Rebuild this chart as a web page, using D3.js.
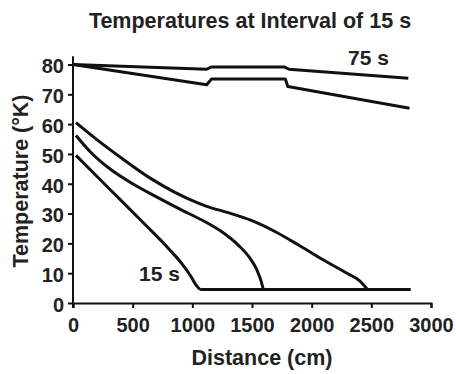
<!DOCTYPE html>
<html lang="en">
    <head>
        <meta charset="utf-8">
        <title>Temperatures at Interval of 15 s</title>
        <script src="https://cdn.jsdelivr.net/npm/d3@7"></script>
        <style type="text/css">
            body { margin: 0; background: #fff; }
            text { font-family: "Liberation Sans", Arial, sans-serif; font-weight: bold; fill: #222; }
        </style>
    </head>
    <body>
        <svg width="456" height="374"></svg>
        <script>
            // Datos (distancia en cm, temperatura en K)
            var xTicks = [0, 500, 1000, 1500, 2000, 2500, 3000];
            var yTicks = [0, 10, 20, 30, 40, 50, 60, 70, 80];

            var dist75 = [0, 1120, 1160, 1770, 1810, 2810];
            var temp75 = [80, 78.4, 79.2, 79.2, 78.4, 75.4];

            var dist60 = [0, 1120, 1160, 1780, 1800, 2820];
            var temp60 = [80, 73.2, 75.1, 75.1, 72.6, 65.3];

            var dist45 = [25, 200, 400, 650, 850, 1050, 1121, 1300, 1500, 1700, 1900, 2100, 2300, 2400, 2445, 2470];
            var temp45 = [60.5, 54.8, 48.8, 41.8, 37.2, 33.5, 32.4, 30.3, 27.6, 23.8, 19.2, 14.4, 9.9, 7.5, 5.6, 4.5];

            var dist30 = [25, 150, 300, 500, 700, 900, 1100, 1250, 1380, 1480, 1540, 1575, 1595];
            var temp30 = [56.2, 50.5, 45.3, 40, 35.6, 31.4, 27.4, 23.8, 19.6, 15.2, 11.2, 7.5, 4.5];

            var dist15 = [25, 212, 400, 600, 800, 920, 990, 1035, 1065];
            var temp15 = [49.5, 42, 34.5, 26.5, 18.3, 12.8, 8.8, 5.8, 4.5];

            // linea plana del fondo
            var distBase = [1065, 2830];
            var tempBase = [4.5, 4.5];

            var svg = d3.select("svg");

            var x = d3.scaleLinear().domain([0, 3000]).range([73, 431]);
            var y = d3.scaleLinear().domain([0, 80]).range([303, 64.5]);

            function zip(xs, ys) {
                return xs.map(function(d, i) { return [d, ys[i]]; });
            }

            var recta = d3.line()
                .x(function(d) { return x(d[0]); })
                .y(function(d) { return y(d[1]); });

            var curva = d3.line()
                .x(function(d) { return x(d[0]); })
                .y(function(d) { return y(d[1]); })
                .curve(d3.curveMonotoneX);

            // Ejes
            var ejeX = svg.append("g")
                .attr("transform", "translate(0," + y(0) + ")")
                .call(d3.axisBottom(x).tickValues(xTicks).tickFormat(d3.format("d"))
                    .tickSizeOuter(0).tickSize(5).tickPadding(10));

            var ejeY = svg.append("g")
                .attr("transform", "translate(" + x(0) + ",0)")
                .call(d3.axisLeft(y).tickValues(yTicks).tickFormat(d3.format("d"))
                    .tickSizeOuter(0).tickSize(5).tickPadding(4));

            // la linea del eje y sube un poco mas que 80
            ejeY.select(".domain").attr("d", "M0," + y(-1.6) + "V" + y(82.8));

            svg.selectAll(".domain, .tick line")
                .attr("stroke", "#111")
                .attr("stroke-width", 2);
            svg.selectAll(".tick text")
                .attr("font-size", 20)
                .attr("fill", "#222")
                .style("font-family", "'Liberation Sans', Arial, sans-serif")
                .style("font-weight", "bold");
            ejeY.selectAll(".tick text").attr("dy", "0.42em");

            // Lineas
            var lineas = svg.append("g")
                .attr("fill", "none")
                .attr("stroke", "#111")
                .attr("stroke-width", 3)
                .attr("stroke-linejoin", "round");

            lineas.append("path").attr("d", recta(zip(dist75, temp75)));
            lineas.append("path").attr("d", recta(zip(dist60, temp60)));
            lineas.append("path").attr("d", curva(zip(dist45, temp45)));
            lineas.append("path").attr("d", curva(zip(dist30, temp30)));
            lineas.append("path").attr("d", curva(zip(dist15, temp15)));
            lineas.append("path").attr("d", recta(zip(distBase, tempBase)));

            // Textos
            svg.append("text")
                .attr("x", 250).attr("y", 28)
                .attr("text-anchor", "middle")
                .attr("font-size", 21.5)
                .text("Temperatures at Interval of 15 s");

            svg.append("text")
                .attr("x", 262).attr("y", 365)
                .attr("text-anchor", "middle")
                .attr("font-size", 21.5)
                .text("Distance (cm)");

            svg.append("text")
                .attr("transform", "translate(28,181) rotate(-90)")
                .attr("text-anchor", "middle")
                .attr("font-size", 21.5)
                .text("Temperature (\u00B0K)");

            svg.append("text")
                .attr("x", 348).attr("y", 65)
                .attr("font-size", 21)
                .text("75 s");

            svg.append("text")
                .attr("x", 139).attr("y", 281)
                .attr("font-size", 21)
                .text("15 s");
        </script>
    </body>
</html>
